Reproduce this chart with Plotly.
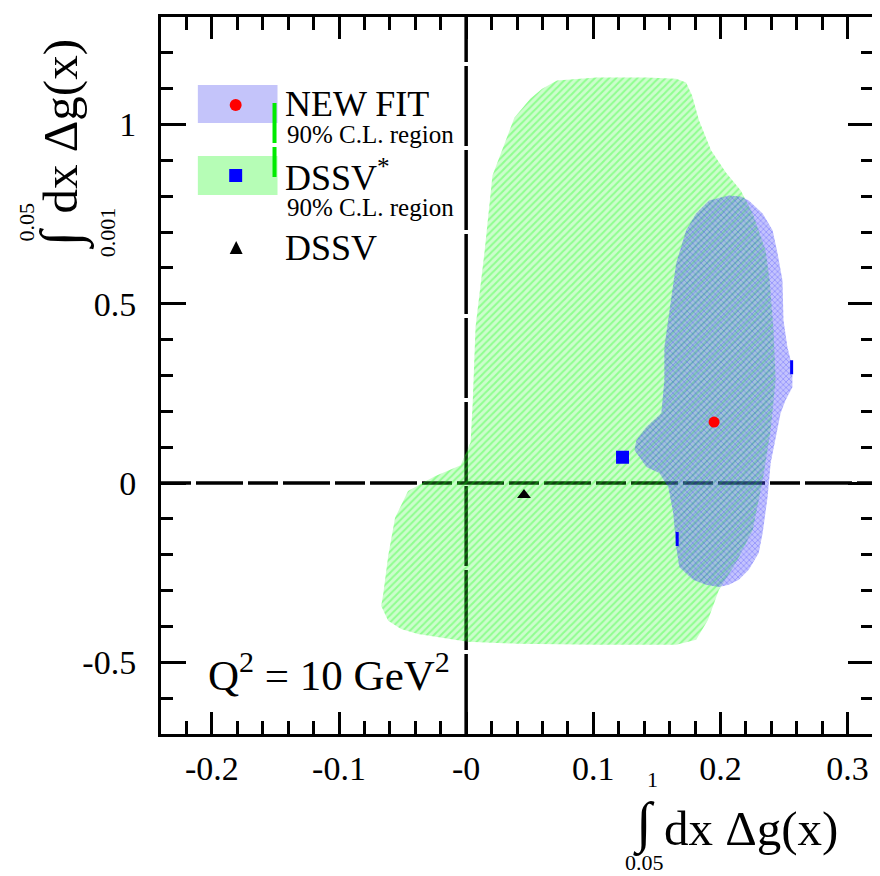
import plotly.graph_objects as go

# ---------------- data ----------------
# DSSV* 90% C.L. region outline (x = int_0.05^1 dx Dg, y = int_0.001^0.05 dx Dg)
dssvs_region_x = [0.0504, 0.0598, 0.0715, 0.1027, 0.1418, 0.1652, 0.1730, 0.1777, 0.1832, 0.1926,
                  0.2043, 0.2160, 0.2254, 0.2355, 0.2387, 0.2418, 0.2434, 0.2395, 0.2332, 0.2254,
                  0.2121, 0.1988, 0.1902, 0.1809, 0.1652, 0.1027, 0.0402, 0.0012, -0.0379, -0.0512,
                  -0.0613, -0.0668, -0.0652, -0.0613, -0.0559, -0.0457, -0.0246, -0.0043, 0.0035, 0.0051,
                  0.0074, 0.0145, 0.0207, 0.0379]
dssvs_region_y = [1.072, 1.100, 1.123, 1.131, 1.131, 1.128, 1.117, 1.081, 1.011, 0.928,
                  0.866, 0.816, 0.752, 0.649, 0.565, 0.426, 0.287, 0.148, 0.008, -0.131,
                  -0.223, -0.298, -0.382, -0.437, -0.451, -0.451, -0.448, -0.443, -0.421, -0.407,
                  -0.384, -0.343, -0.309, -0.203, -0.097, -0.022, 0.019, 0.050, 0.114, 0.220,
                  0.435, 0.646, 0.858, 1.019]

# NEW FIT 90% C.L. region outline
newfit_region_x = [0.2066, 0.2160, 0.2223, 0.2332, 0.2410, 0.2449, 0.2488, 0.2496, 0.2527, 0.2566,
                   0.2566, 0.2512, 0.2473, 0.2434, 0.2395, 0.2371, 0.2355, 0.2332, 0.2301, 0.2223,
                   0.2145, 0.2066, 0.1988, 0.1887, 0.1785, 0.1676, 0.1652, 0.1629, 0.1590, 0.1520,
                   0.1418, 0.1324, 0.1340, 0.1418, 0.1535, 0.1559, 0.1559, 0.1598, 0.1652, 0.1730,
                   0.1809, 0.1910]
newfit_region_y = [0.802, 0.799, 0.788, 0.752, 0.705, 0.641, 0.565, 0.454, 0.379, 0.323,
                   0.267, 0.231, 0.195, 0.120, 0.056, -0.039, -0.084, -0.139, -0.195, -0.242,
                   -0.270, -0.284, -0.290, -0.284, -0.270, -0.234, -0.178, -0.084, -0.011, 0.028,
                   0.045, 0.092, 0.120, 0.156, 0.195, 0.287, 0.379, 0.474, 0.613, 0.705,
                   0.752, 0.788]

# best-fit points
newfit_point = (0.195, 0.170)
dssvs_point = (0.123, 0.072)
dssv_point = (0.0455, -0.033)
# extreme points marked on the NEW FIT region
extreme_x = [0.256, 0.166]
extreme_y = [0.323, -0.156]

# axes
x_range = [-0.24, 0.32]
y_range = [-0.7, 1.3]
x_tickvals = [-0.2, -0.1, 0.0, 0.1, 0.2, 0.3]
x_ticktext = ["-0.2", "-0.1", "-0", "0.1", "0.2", "0.3"]
y_tickvals = [-0.5, 0.0, 0.5, 1.0]
y_ticktext = ["-0.5", "0", "0.5", "1"]

# legend texts
legend_newfit = "NEW FIT"
legend_dssvs = "DSSV<sup>*</sup>"
legend_dssv = "DSSV"
legend_cl = "90% C.L. region"
q2_label = "Q<sup>2</sup> = 10 GeV<sup>2</sup>"

# ---------------- layout helpers ----------------
OFF = 8                      # page body margin offset
W, H = 872, 868
PL, PR, PT, PB = 161, 876, 17, 734   # desired plot edges in page pixels
ML = PL - OFF
MR = W - (PR - OFF)
MT = PT - OFF
MB = H - (PB - OFF)
PW = PR - PL
PH = PB - PT


def px(xp):
    return (xp - PL) / PW


def py(yp):
    return (PB - yp) / PH


FONT = "Liberation Serif, Times New Roman, serif"

fig = go.Figure()

fig.add_trace(go.Scatter(
    x=dssvs_region_x, y=dssvs_region_y, mode="lines", fill="toself",
    fillcolor="rgba(60,245,60,0.30)", line=dict(width=0),
    fillpattern=dict(shape="/", bgcolor="rgba(60,245,60,0.26)", fgcolor="rgb(0,255,0)",
                     fgopacity=0.3, size=5, solidity=0.4),
    hoverinfo="skip", showlegend=False))

fig.add_trace(go.Scatter(
    x=newfit_region_x, y=newfit_region_y, mode="lines", fill="toself",
    fillcolor="rgba(70,70,245,0.36)", line=dict(width=0),
    fillpattern=dict(shape="x", bgcolor="rgba(80,80,250,0.34)", fgcolor="rgb(40,40,255)",
                     fgopacity=0.4, size=4, solidity=0.3),
    hoverinfo="skip", showlegend=False))

fig.add_trace(go.Scatter(x=[newfit_point[0]], y=[newfit_point[1]], mode="markers",
                         marker=dict(symbol="circle", size=11, color="red"), showlegend=False))
fig.add_trace(go.Scatter(x=[dssvs_point[0]], y=[dssvs_point[1]], mode="markers",
                         marker=dict(symbol="square", size=13, color="blue"), showlegend=False))
fig.add_trace(go.Scatter(x=[dssv_point[0]], y=[dssv_point[1]], mode="markers",
                         marker=dict(symbol="triangle-up", size=12, color="black"), showlegend=False))
fig.add_trace(go.Scatter(x=extreme_x, y=extreme_y, mode="markers",
                         marker=dict(symbol="line-ns", size=10, line=dict(width=3, color="blue")),
                         showlegend=False))

shapes = [
    dict(type="line", xref="x", yref="paper", x0=0, x1=0, y0=0, y1=1, layer="below",
         line=dict(color="black", width=3.5, dash="80px,4px")),
    dict(type="line", xref="paper", yref="y", x0=0, x1=1, y0=0, y1=0, layer="below",
         line=dict(color="black", width=3.5, dash="30px,5px,47px,5px")),
    # legend swatches
    dict(type="rect", xref="paper", yref="paper", x0=px(198), x1=px(278), y0=py(123), y1=py(85),
         fillcolor="rgb(196,196,250)", line=dict(width=0)),
    dict(type="rect", xref="paper", yref="paper", x0=px(198), x1=px(278), y0=py(195), y1=py(156),
         fillcolor="rgb(182,253,182)", line=dict(width=0)),
    dict(type="circle", xref="paper", yref="paper", x0=px(230), x1=px(242), y0=py(111), y1=py(99),
         fillcolor="red", line=dict(width=0)),
    dict(type="rect", xref="paper", yref="paper", x0=px(229.5), x1=px(242.5), y0=py(182), y1=py(169),
         fillcolor="blue", line=dict(width=0)),
    dict(type="path", xref="paper", yref="paper",
         path=f"M {px(236.5)} {py(241)} L {px(243)} {py(254)} L {px(230)} {py(254)} Z",
         fillcolor="black", line=dict(width=0)),
    dict(type="line", xref="paper", yref="paper", x0=px(275), x1=px(275), y0=py(103), y1=py(177),
         line=dict(color="rgb(0,235,0)", width=4, dash="40px,4px")),
]

annotations = []


def txt(text, x, y, size, xanchor="left", yanchor="middle", angle=0):
    annotations.append(dict(text=text, x=px(x), y=py(y), xref="paper", yref="paper",
                            xanchor=xanchor, yanchor=yanchor, showarrow=False, textangle=angle,
                            font=dict(family=FONT, size=size, color="black")))


txt(legend_newfit, 284, 104, 36)
txt(legend_cl, 286, 134, 25)
txt(legend_dssvs, 284, 176, 36)
txt(legend_cl, 286, 208, 25)
txt(legend_dssv, 284, 248, 36)
txt(q2_label, 206, 672, 43)

# x-axis title
txt("∫", 646, 824, 56, xanchor="center")
txt("1", 655, 779, 22, xanchor="center")
txt("0.05", 647, 862, 22, xanchor="center")
txt("dx Δg(x)", 664, 828, 49)

# y-axis title (rotated)
txt("dx Δg(x)", 60, 126, 49, xanchor="center", angle=-90)
txt("∫", 62, 238, 56, xanchor="center", angle=-90)
txt("0.05", 25, 222, 22, xanchor="center", angle=-90)
txt("0.001", 108, 232, 22, xanchor="center", angle=-90)

fig.update_layout(
    width=W, height=H,
    margin=dict(l=ML, r=MR, t=MT, b=MB),
    paper_bgcolor="white", plot_bgcolor="white",
    showlegend=False,
    shapes=shapes, annotations=annotations,
    font=dict(family=FONT, color="black"),
)

fig.update_xaxes(
    range=x_range, tickmode="array", tickvals=x_tickvals, ticktext=x_ticktext,
    showgrid=False, zeroline=False, showline=True, linewidth=3, linecolor="black",
    mirror="allticks", ticks="inside", ticklen=22, tickwidth=3, tickcolor="black",
    tickfont=dict(family=FONT, size=34, color="black"), ticklabelstandoff=2,
    minor=dict(tickmode="linear", tick0=0, dtick=0.02, ticks="inside", ticklen=13,
               tickwidth=3, tickcolor="black", showgrid=False),
)
fig.update_yaxes(
    range=y_range, tickmode="array", tickvals=y_tickvals, ticktext=y_ticktext,
    showgrid=False, zeroline=False, showline=True, linewidth=3, linecolor="black",
    mirror="allticks", ticks="inside", ticklen=25, tickwidth=3, tickcolor="black",
    tickfont=dict(family=FONT, size=34, color="black"), ticklabelstandoff=15,
    minor=dict(tickmode="linear", tick0=0, dtick=0.1, ticks="inside", ticklen=12,
               tickwidth=3, tickcolor="black", showgrid=False),
)

fig.write_html("out.html")
